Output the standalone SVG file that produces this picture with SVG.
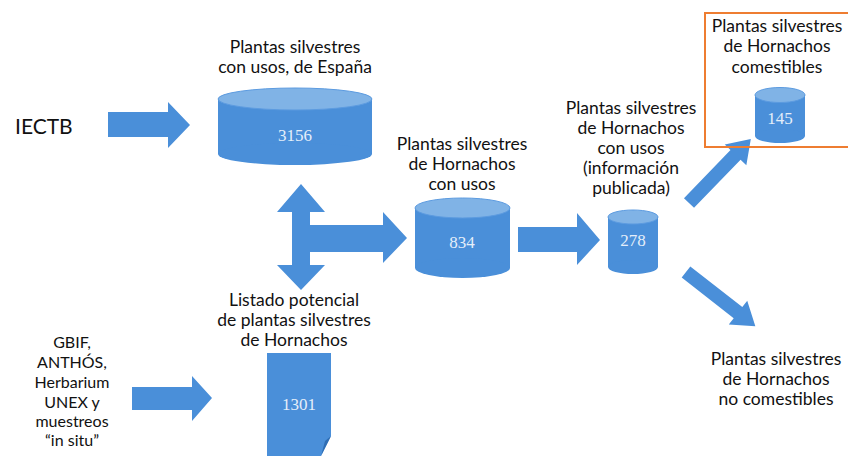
<svg xmlns="http://www.w3.org/2000/svg" width="848" height="456" viewBox="0 0 848 456">
<style>
.lbl{font-family:"Lato","Liberation Sans",sans-serif;font-size:17.5px;fill:#111;text-anchor:middle}
.src{font-size:16px}
.num{font-family:"Liberation Serif",serif;font-size:17px;fill:#e4eefa;text-anchor:middle}
.body{fill:#4a8fd9}
.top{fill:#80b3e6;stroke:#5c9be0;stroke-width:1}
.arr{fill:#4a8fd9}
</style>
<rect width="848" height="456" fill="#fff"/>
<g id="connectors">
<polygon class="arr" points="108,112 168,112 168,102 190,125 168,148 168,137 108,137"/>
<polygon class="arr" points="132,387 192,387 192,376 212,398 192,421 192,410 132,410"/>
<polygon class="arr" points="518,227 577,227 577,213 600,240 577,265 577,252 518,252"/>
<polygon class="arr" points="301,184 325,212 310,212 310,225 383,225 383,212 407,238 383,263 383,252 310,252 310,265 325,265 301,290 277,265 292,265 292,212 277,212"/>
<polygon class="arr" transform="translate(689,203) rotate(-46)" points="0,-7 67,-7 67,-15 89,0 67,15 67,7 0,7"/>
<polygon class="arr" transform="translate(686,272) rotate(38)" points="0,-7 66,-7 66,-15 88,0 66,15 66,7 0,7"/>
</g>
<g id="iectb"><text class="lbl" x="15" y="134" style="text-anchor:start;font-size:21px">IECTB</text></g>
<g id="spain">
<text class="lbl" x="295" y="53">Plantas silvestres</text>
<text class="lbl" x="295" y="73">con usos, de España</text>
<rect class="body" x="218" y="99" width="154" height="55"/>
<ellipse class="body" cx="295" cy="154" rx="77" ry="11"/>
<ellipse class="top" cx="295" cy="99" rx="77" ry="11"/>
<text class="num" x="295" y="141">3156</text>
</g>
<g id="hornachos-usos">
<text class="lbl" x="462" y="150">Plantas silvestres</text>
<text class="lbl" x="462" y="170">de Hornachos</text>
<text class="lbl" x="462" y="190">con usos</text>
<rect class="body" x="415" y="208" width="95" height="60"/>
<ellipse class="body" cx="462.5" cy="268" rx="47.5" ry="10"/>
<ellipse class="top" cx="462.5" cy="208" rx="47.5" ry="10"/>
<text class="num" x="462" y="248">834</text>
</g>
<g id="publicada">
<text class="lbl" x="631" y="114">Plantas silvestres</text>
<text class="lbl" x="631" y="134">de Hornachos</text>
<text class="lbl" x="631" y="154">con usos</text>
<text class="lbl" x="631" y="174">(información</text>
<text class="lbl" x="631" y="194">publicada)</text>
<rect class="body" x="608" y="217" width="50" height="50"/>
<ellipse class="body" cx="633" cy="267" rx="25" ry="7"/>
<ellipse class="top" cx="633" cy="217" rx="25" ry="7"/>
<text class="num" x="633" y="246">278</text>
</g>
<g id="comestibles">
<rect x="705" y="13" width="145" height="134" fill="none" stroke="#ee7d31" stroke-width="2"/>
<text class="lbl" x="777" y="32">Plantas silvestres</text>
<text class="lbl" x="777" y="52">de Hornachos</text>
<text class="lbl" x="777" y="73">comestibles</text>
<rect class="body" x="755" y="95" width="50" height="41"/>
<ellipse class="body" cx="780" cy="136" rx="25" ry="7"/>
<ellipse class="top" cx="780" cy="95" rx="25" ry="7.5"/>
<text class="num" x="780" y="124">145</text>
</g>
<g id="no-comestibles">
<text class="lbl" x="776" y="365">Plantas silvestres</text>
<text class="lbl" x="776" y="385">de Hornachos</text>
<text class="lbl" x="776" y="405">no comestibles</text>
</g>
<g id="listado">
<text class="lbl" x="294" y="306">Listado potencial</text>
<text class="lbl" x="294" y="326">de plantas silvestres</text>
<text class="lbl" x="294" y="346">de Hornachos</text>
<path class="body" d="M267,353 H331 V436 L321,456 H267 Z"/>
<polygon points="321,456 331,436 325,441" fill="#2f6db3"/>
<text class="num" x="299" y="410">1301</text>
</g>
<g id="fuentes">
<text class="lbl src" x="72" y="348">GBIF,</text>
<text class="lbl src" x="72" y="368">ANTHÓS,</text>
<text class="lbl src" x="72" y="388">Herbarium</text>
<text class="lbl src" x="72" y="408">UNEX y</text>
<text class="lbl src" x="72" y="427">muestreos</text>
<text class="lbl src" x="72" y="446">“in situ”</text>
</g>
</svg>
